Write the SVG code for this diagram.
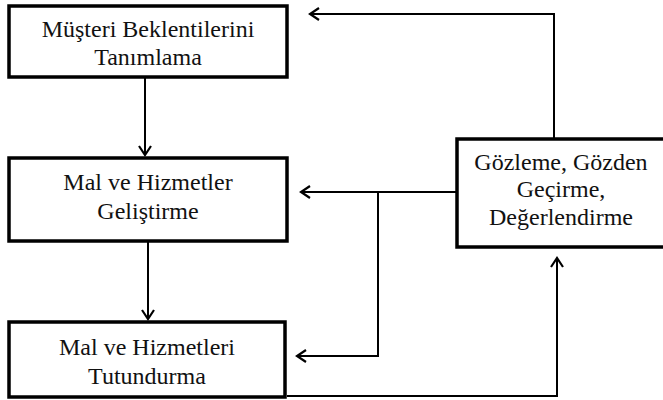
<svg xmlns="http://www.w3.org/2000/svg" width="663" height="400" viewBox="0 0 663 400">
  <style>
    .box { fill: #ffffff; stroke: #000000; stroke-width: 3.5; }
    .lbl { font-family: "Liberation Serif", "Times New Roman", serif; font-size: 24px; fill: #111111; text-anchor: middle; }
    .wire { fill: none; stroke: #000000; stroke-width: 2; }
  </style>
  <defs>
    <!-- open chevron arrowhead shared by all connectors -->
    <marker id="head" markerWidth="14" markerHeight="14" refX="11" refY="7" orient="auto" markerUnits="userSpaceOnUse">
      <polyline points="2,1 11,7 2,13" fill="none" stroke="#000000" stroke-width="2.2"/>
    </marker>
  </defs>
  <rect width="663" height="400" fill="#ffffff"/>

  <g id="connectors">
    <line class="wire" x1="145" y1="78" x2="145" y2="155" marker-end="url(#head)"/>
    <line class="wire" x1="148" y1="242" x2="148" y2="319" marker-end="url(#head)"/>
    <polyline class="wire" points="554,139 554,14 310,14" marker-end="url(#head)"/>
    <line class="wire" x1="457" y1="192" x2="301" y2="192" marker-end="url(#head)"/>
    <polyline class="wire" points="378,192 378,356 297,356" marker-end="url(#head)"/>
    <polyline class="wire" points="287,396 557,396 557,258" marker-end="url(#head)"/>
  </g>

  <g id="node-beklenti">
    <rect class="box" x="9" y="6" width="278" height="71"/>
    <text class="lbl" x="148" y="37">Müşteri Beklentilerini</text>
    <text class="lbl" x="148" y="65">Tanımlama</text>
  </g>

  <g id="node-gelistirme">
    <rect class="box" x="9" y="158" width="278" height="83"/>
    <text class="lbl" x="148" y="190">Mal ve Hizmetler</text>
    <text class="lbl" x="148" y="219">Geliştirme</text>
  </g>

  <g id="node-tutundurma">
    <rect class="box" x="9" y="322" width="276" height="75"/>
    <text class="lbl" x="147" y="355">Mal ve Hizmetleri</text>
    <text class="lbl" x="147" y="384">Tutundurma</text>
  </g>

  <g id="node-degerlendirme">
    <rect class="box" x="457" y="139" width="210" height="108"/>
    <text class="lbl" x="561" y="170">Gözleme, Gözden</text>
    <text class="lbl" x="561" y="197">Geçirme,</text>
    <text class="lbl" x="561" y="225">Değerlendirme</text>
  </g>
</svg>
